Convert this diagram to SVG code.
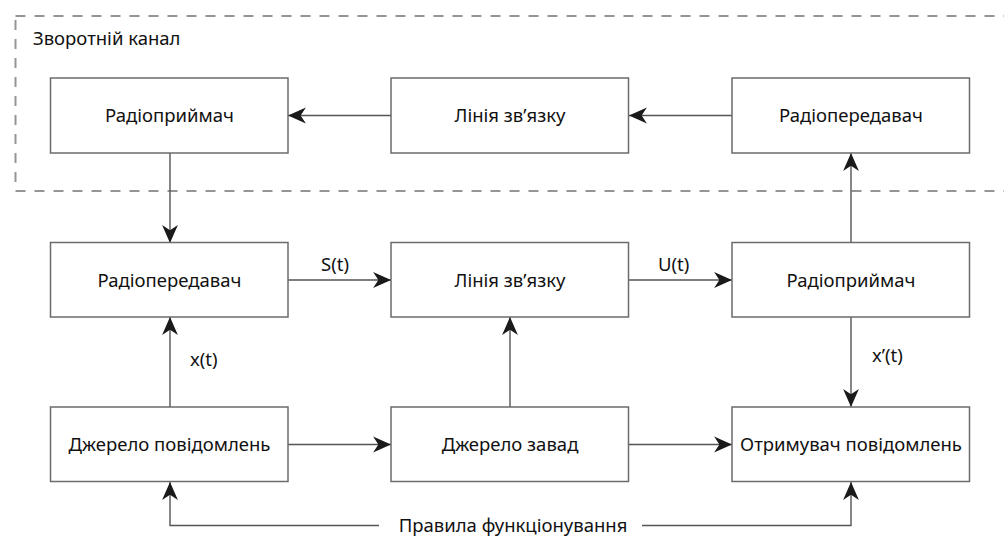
<svg xmlns="http://www.w3.org/2000/svg" width="1004" height="536" viewBox="0 0 1004 536">
<style>
.box{fill:#fff;stroke:#6b6b6b;stroke-width:1.5}
.t{font-family:"Noto Sans","Open Sans",sans-serif;font-size:18.5px;fill:#111;text-anchor:middle}
.l{font-family:"Noto Sans","Open Sans",sans-serif;font-size:18.5px;fill:#111}
.ca{fill:none;stroke:#555;stroke-width:1.4;marker-end:url(#ah)}
</style>
<defs>
<marker id="ah" markerUnits="userSpaceOnUse" markerWidth="20" markerHeight="20" viewBox="-18 -9 19 18" refX="0" refY="0" orient="auto">
<path d="M0,0 L-17,-7.5 L-12,0 L-17,7.5 Z" fill="#1a1a1a"/>
</marker>
</defs>
<rect x="0" y="0" width="1004" height="536" fill="#fff"/>
<g id="feedback-channel">
<rect x="15.5" y="16" width="1010" height="175" fill="none" stroke="#959595" stroke-width="2" stroke-dasharray="10 9"/>
<text class="l" x="33" y="45">Зворотній канал</text>
</g>
<g id="connectors">
<path class="ca" d="M732,115.5 H629"/>
<path class="ca" d="M391,115.5 H288"/>
<path class="ca" d="M170,153 V243"/>
<path class="ca" d="M288,280 H391"/>
<path class="ca" d="M628.5,280 H732"/>
<path class="ca" d="M851,243 V153"/>
<path class="ca" d="M170,407 V317"/>
<path class="ca" d="M510,407 V317"/>
<path class="ca" d="M851,317 V407"/>
<path class="ca" d="M288,444.5 H391"/>
<path class="ca" d="M628.5,444.5 H732"/>
<path class="ca" d="M379,525.5 H170 V482"/>
<path class="ca" d="M642,525.5 H851 V482"/>
<text class="l" x="321" y="271">S(t)</text>
<text class="l" x="658" y="271">U(t)</text>
<text class="l" x="190" y="366">x(t)</text>
<text class="l" x="872" y="362">x’(t)</text>
<text class="t" x="513" y="532">Правила функціонування</text>
</g>
<g id="rx-top"><rect class="box" x="50.5" y="78" width="237.5" height="75"/><text class="t" x="169.5" y="122">Радіоприймач</text></g>
<g id="line-top"><rect class="box" x="391" y="78" width="237.5" height="75"/><text class="t" x="510" y="122">Лінія зв’язку</text></g>
<g id="tx-top"><rect class="box" x="732" y="78" width="237.5" height="75"/><text class="t" x="851" y="122">Радіопередавач</text></g>
<g id="tx-mid"><rect class="box" x="50.5" y="242.5" width="237.5" height="74.5"/><text class="t" x="169.5" y="286.5">Радіопередавач</text></g>
<g id="line-mid"><rect class="box" x="391" y="242.5" width="237.5" height="74.5"/><text class="t" x="510" y="286.5">Лінія зв’язку</text></g>
<g id="rx-mid"><rect class="box" x="732" y="242.5" width="237.5" height="74.5"/><text class="t" x="851" y="286.5">Радіоприймач</text></g>
<g id="source"><rect class="box" x="50.5" y="407" width="237.5" height="74.5"/><text class="t" x="169.5" y="451">Джерело повідомлень</text></g>
<g id="noise"><rect class="box" x="391" y="407" width="237.5" height="74.5"/><text class="t" x="510" y="451">Джерело завад</text></g>
<g id="sink"><rect class="box" x="732" y="407" width="237.5" height="74.5"/><text class="t" x="851" y="451">Отримувач повідомлень</text></g>
</svg>
